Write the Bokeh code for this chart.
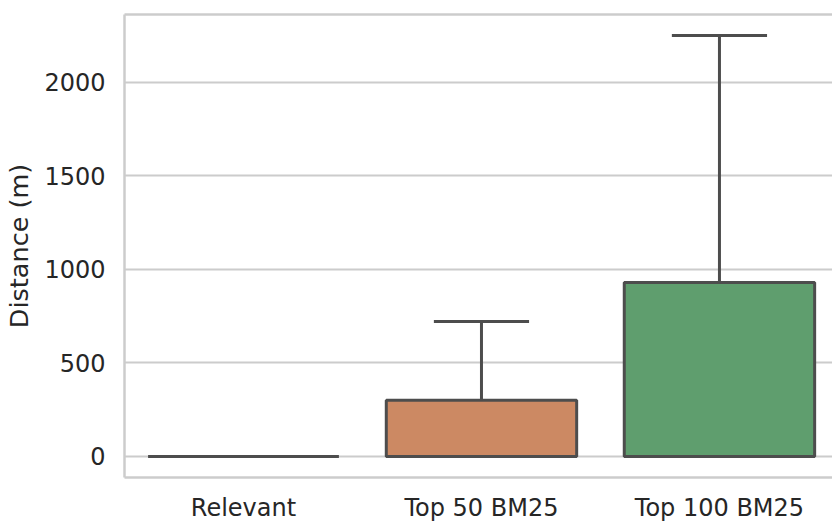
from bokeh.plotting import figure
from bokeh.models import ColumnDataSource, Range1d, FixedTicker, LinearAxis
from bokeh.embed import file_html
from bokeh.resources import INLINE

categories = ["Relevant", "Top 50 BM25", "Top 100 BM25"]
q1 = [0, 0, 0]
median = [0, 0, 0]
q3 = [0, 300, 930]
whisker_low = [0, 0, 0]
whisker_high = [0, 722, 2251]
colors = ["#5975a4", "#cc8963", "#5f9e6e"]

BOX_W = 0.8
CAP_W = 0.4
idx = list(range(len(categories)))

src = ColumnDataSource(dict(
    x=idx,
    q1=q1, med=median, q3=q3, lo=whisker_low, hi=whisker_high, color=colors,
    left=[i - BOX_W / 2 for i in idx], right=[i + BOX_W / 2 for i in idx],
    cl=[i - CAP_W / 2 for i in idx], cr=[i + CAP_W / 2 for i in idx],
))

FONT = "DejaVu Sans"
TXT = "#262626"
EDGE = "#4d4d4d"
GRID = "#cccccc"

p = figure(width=832, height=524, output_backend="svg", toolbar_location=None,
           x_range=Range1d(-0.5, 2.475), y_range=Range1d(-112.5, 2363.6),
           min_border_left=124, min_border_top=14, min_border_right=0,
           min_border_bottom=46)
p.outline_line_color = None
p.background_fill_color = "white"
p.border_fill_color = "white"

# boxes
p.vbar(x="x", width=BOX_W, bottom="q1", top="q3", source=src,
       fill_color="color", line_color=EDGE, line_width=3)
# whiskers
p.segment(x0="x", y0="q3", x1="x", y1="hi", source=src, line_color=EDGE, line_width=3)
p.segment(x0="x", y0="q1", x1="x", y1="lo", source=src, line_color=EDGE, line_width=3)
# caps
p.segment(x0="cl", y0="hi", x1="cr", y1="hi", source=src, line_color=EDGE, line_width=3)
p.segment(x0="cl", y0="lo", x1="cr", y1="lo", source=src, line_color=EDGE, line_width=3)
# medians
p.segment(x0="left", y0="med", x1="right", y1="med", source=src, line_color=EDGE, line_width=3)

# axes
p.xaxis.ticker = FixedTicker(ticks=idx)
p.xaxis.major_label_overrides = {i: c for i, c in zip(idx, categories)}
p.yaxis.ticker = FixedTicker(ticks=[0, 500, 1000, 1500, 2000])
p.yaxis.axis_label = "Distance (m)"

for ax in (p.xaxis[0], p.yaxis[0]):
    ax.axis_line_color = GRID
    ax.axis_line_width = 2.5
    ax.major_tick_line_color = None
    ax.minor_tick_line_color = None
    ax.major_tick_out = 0
    ax.major_tick_in = 0
    ax.major_label_text_font = FONT
    ax.major_label_text_font_size = "24px"
    ax.major_label_text_color = TXT
    ax.axis_label_text_font = FONT
    ax.axis_label_text_font_size = "25.5px"
    ax.axis_label_text_font_style = "normal"
    ax.axis_label_text_color = TXT

p.xaxis.major_label_standoff = 16
p.yaxis.major_label_standoff = 19
p.yaxis.axis_label_standoff = 7

top = LinearAxis(axis_line_color=GRID, axis_line_width=2.5,
                 major_tick_line_color=None, minor_tick_line_color=None,
                 major_tick_out=0, major_tick_in=0, major_label_standoff=0,
                 major_label_text_font_size="0px", ticker=FixedTicker(ticks=[]))
p.add_layout(top, "above")

p.xgrid.grid_line_color = None
p.ygrid.grid_line_color = GRID
p.ygrid.grid_line_width = 2

open("out.html", "w").write(file_html(p, INLINE))
